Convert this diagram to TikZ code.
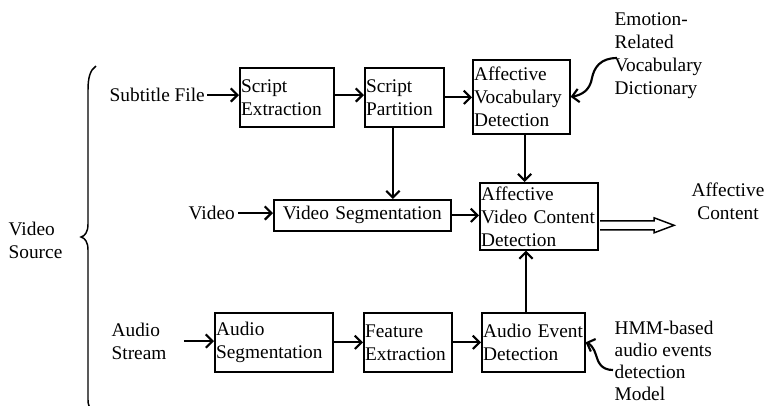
\documentclass[tikz,border=0pt]{standalone}
\usepackage{fontspec}
\setmainfont{Liberation Serif}
\usetikzlibrary{arrows.meta}

\tikzset{every picture/.style={line width=1pt}}
\tikzset{
  every node/.style={font=\fontsize{14.5}{17.25}\selectfont},
  lbl/.style={inner sep=0pt, align=left, anchor=west},
  blk/.style={draw, line width=1.2pt, anchor=north west, inner xsep=1pt, inner ysep=0pt, align=left},
  arr/.style={line width=1.6pt, -{Straight Barb[length=5pt,width=10pt]}}
}

\begin{document}
\begin{tikzpicture}[x=0.75pt,y=0.75pt,yscale=-1,xscale=1]
\useasboundingbox (0,0) rectangle (766,405);

%Brace
\draw[line width=1.1pt] (96,66) .. controls (90,70) and (88,78) .. (88,90) -- (88,224) .. controls (88,232) and (85,236) .. (81,237) .. controls (85,238) and (88,242) .. (88,250) -- (88,400) .. controls (88,404) and (89,406) .. (90,408) ;

% Text Node
\node[lbl] (vsrc) at (8,240) {Video\\Source};
% Text Node
\node[lbl] (subt) at (109,95) {Subtitle File};
% Text Node
\node[lbl] (vid) at (188,213) {Video};
% Text Node
\node[lbl] (astr) at (111,341) {Audio\\Stream};
% Text Node
\node[lbl] (erv) at (614,56) {Emotion-\\Related\\Vocabulary\\Dictionary};
% Text Node
\node[lbl, font=\fontsize{14.5}{16.5}\selectfont] (hmm) at (614,361) {HMM-based\\audio events\\detection\\Model};
% Text Node
\node[inner sep=0pt, align=center] (actx) at (728,201) {Affective\\Content};

%Boxes
\node[blk, minimum width=70.5pt, text width=68.5pt, minimum height=44.25pt] (sext) at (239,67) {Script\\Extraction};
\node[blk, minimum width=59.25pt, text width=57.25pt, minimum height=44.25pt] (spart) at (364,67) {Script\\Partition};
\node[blk, minimum width=72.75pt, text width=70.75pt, minimum height=55.5pt] (avd) at (472,59) {Affective\\Vocabulary\\Detection};
\node[blk, align=center, minimum width=132.75pt, text width=130.75pt, minimum height=23.25pt] (vseg) at (273,199) {Video Segmentation};
\node[blk, minimum width=88.5pt, text width=86.5pt, minimum height=50.25pt] (avcd) at (479,182) {Affective\\Video Content\\Detection};
\node[blk, minimum width=88.5pt, text width=86.5pt, minimum height=44.25pt] (aseg) at (214,312) {Audio\\Segmentation};
\node[blk, minimum width=66pt, text width=64pt, minimum height=44.25pt] (fext) at (363,312) {Feature\\Extraction};
\node[blk, minimum width=77.25pt, text width=75.25pt, minimum height=44.25pt] (aed) at (481,312) {Audio Event\\Detection};

\coordinate (ervtail) at (617,58);
\coordinate (hmmtail) at (613,370);

%Straight Lines
\draw[arr] ([xshift=1.5pt]subt.east) -- (subt.east -| sext.west);
\draw[arr] (sext.east |- subt.east) -- (subt.east -| spart.west);
\draw[arr] (spart.east) -- (spart.east -| avd.west);
\draw[arr] ([xshift=-8.5pt]spart.south) -- ([xshift=-8.5pt]spart.south |- vseg.north);
\draw[arr] ([xshift=2.5pt]avd.south) -- ([xshift=2.5pt]avd.south |- avcd.north);
\draw[arr] ([xshift=2pt]vid.east) -- (vid.east -| vseg.west);
\draw[arr] (vseg.east) -- (vseg.east -| avcd.west);
\draw[arr] ([xshift=-5.5pt]aed.north) -- ([xshift=-5.5pt]aed.north |- avcd.south);
\draw[arr] ([xshift=12.5pt]astr.east) -- (astr.east -| aseg.west);
\draw[arr] (aseg.east) -- (aseg.east -| fext.west);
\draw[arr] (fext.east) -- (fext.east -| aed.west);

%Curve Lines
\draw[arr] (ervtail) .. controls (600,58) and (594,68) .. (592,78) .. controls (590,90) and (582,95) .. (avd.east);
\draw[arr] (hmmtail) .. controls (601,370) and (598,362) .. (596,355) .. controls (594,348) and (590,344) .. (aed.east);

%Hollow Arrow
\draw[line width=1.1pt, fill=white] ([yshift=6.75pt]avcd.east) ++(1.5,-4.5) -- ++(54,0) -- ++(0,-3) -- ++(20,7.5) -- ++(-20,7.5) -- ++(0,-3) -- ++(-54,0) ;

\end{tikzpicture}
\end{document}
